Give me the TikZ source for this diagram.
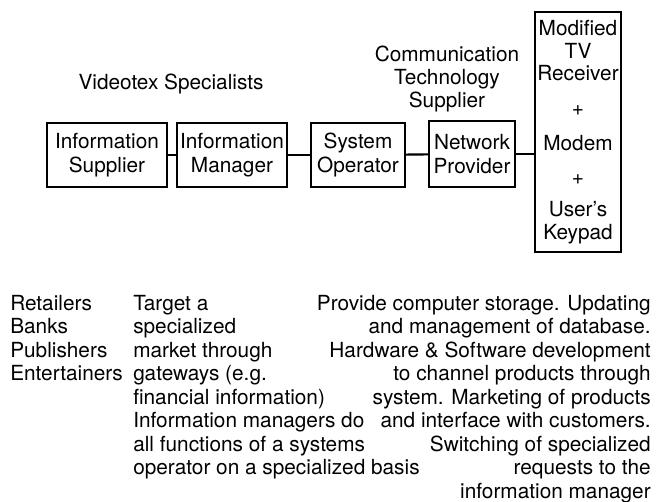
\documentclass[tikz,border=0pt]{standalone}
\usepackage{fontspec}
\setmainfont{TeX Gyre Heros}
\begin{document}
\begin{tikzpicture}[x=0.75pt,y=-0.75pt,
  txt/.style={inner sep=0pt, font=\fontsize{15.6}{17.6}\selectfont},
  box/.style={txt, draw, line width=1.5pt, align=center},
  lbl/.style={txt, align=center},
  link/.style={line width=1.6pt}]
\useasboundingbox (0,0) rectangle (664,501);
% top labels
\node[lbl] (vs) at (171,84) {Videotex Specialists};
\node[lbl] (cts) at (447,79) {Communication\\Technology\\Supplier};
% boxes
\node[box, minimum width=90pt, minimum height=48pt] (is) at (107,155) {Information\\Supplier};
\node[box, minimum width=82.5pt, minimum height=48pt] (im) at (232,155) {Information\\Manager};
\node[box, minimum width=70.5pt, minimum height=48pt] (so) at (358,155) {System\\Operator};
\node[box, minimum width=64.5pt, minimum height=49.5pt] (np) at (472,154) {Network\\Provider};
\node[box, minimum width=64.5pt, minimum height=180pt, font=\fontsize{15.6}{17}\selectfont] (tv) at (578,132)
  {Modified\\TV\\Receiver\\[9pt]+\\[9pt]Modem\\[9pt]+\\[7pt]User's\\Keypad};
% connectors
\draw[link] (is) -- (im);
\draw[link] (im) -- (so);
\draw[link] (so) -- (np);
\draw[link] (np.east) -- (np.east -| tv.west);
% bottom columns
\node[txt, align=left, anchor=north west] (c1) at (10,295)
  {Retailers\\Banks\\Publishers\\Entertainers};
\node[txt, align=left, anchor=north west] (c2) at (133,295)
  {Target a\\specialized\\market through\\gateways (e.g.\\financial information)\\Information managers do\\all functions of a systems\\operator on a specialized basis};
\node[txt, align=right, anchor=north east] (c3) at (651,295)
  {Provide computer storage. Updating\\and management of database.\\Hardware \& Software development\\to channel products through\\system. Marketing of products\\and interface with customers.\\Switching of specialized\\requests to the\\information manager};
\end{tikzpicture}
\end{document}
